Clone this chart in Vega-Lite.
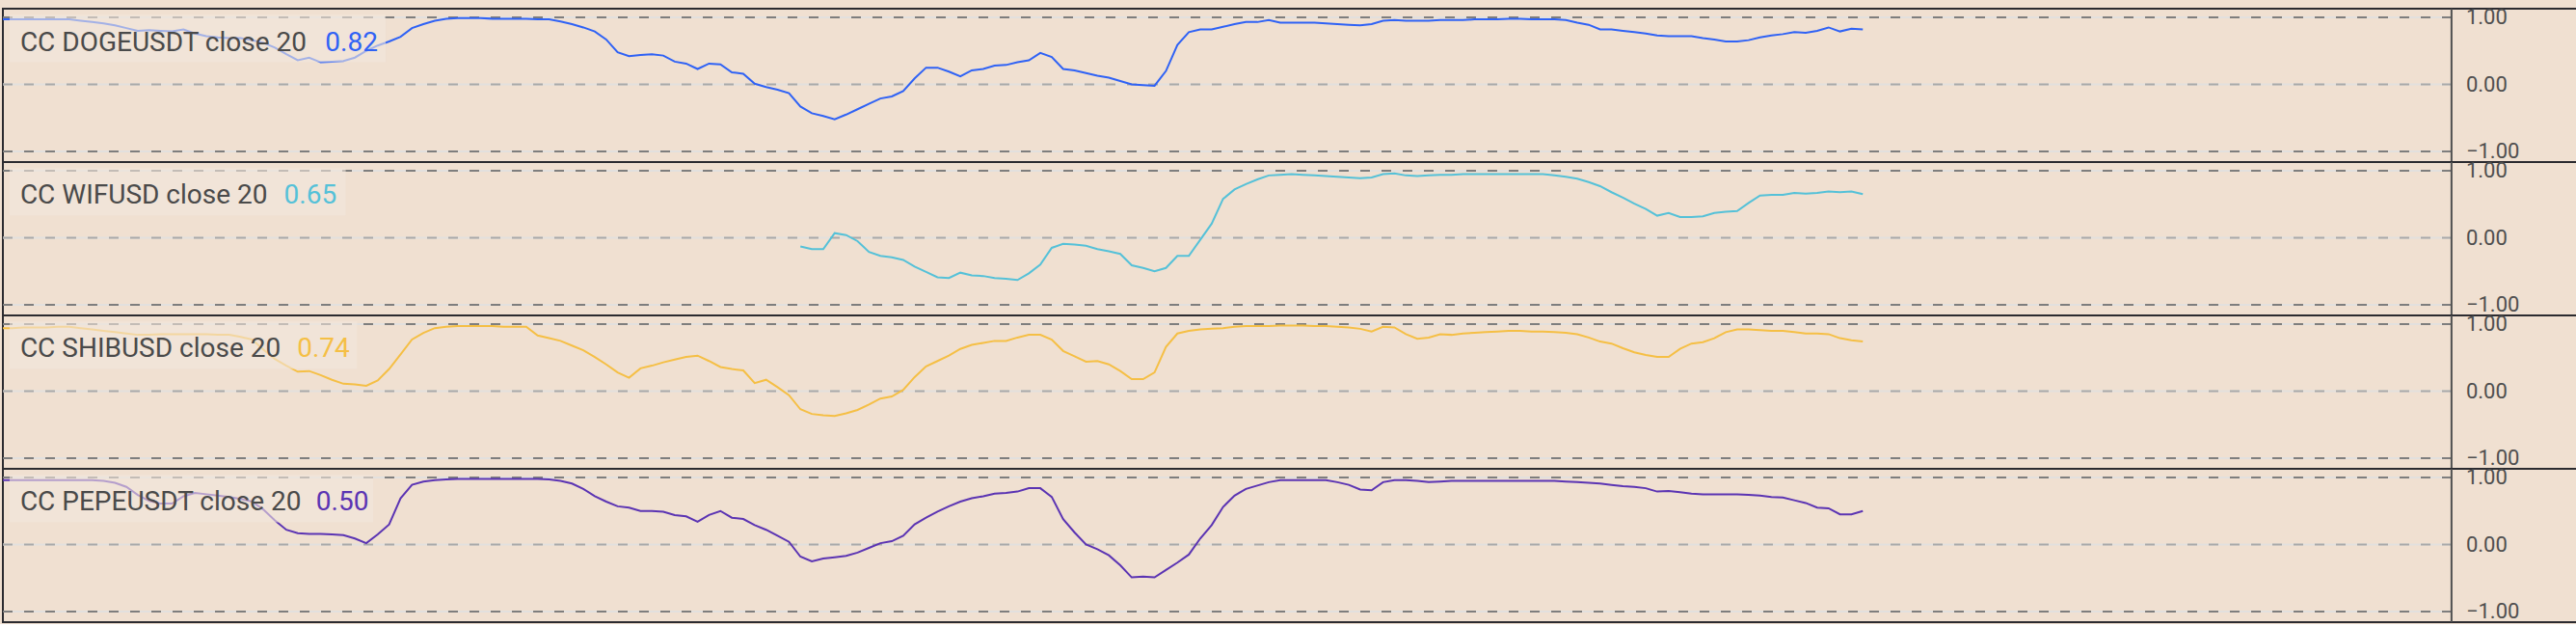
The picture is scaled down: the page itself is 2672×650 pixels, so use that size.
{
  "$schema": "https://vega.github.io/schema/vega-lite/v6.json",
  "background": "#f0e0d1",
  "padding": {"left": 1, "top": 6, "right": 0, "bottom": 0},
  "spacing": 0,
  "bounds": "flush",
  "config": {
    "view": {"stroke": "#2b2b30", "strokeWidth": 2, "fill": "#f0e0d1"},
    "text": {"font": "Roboto"}
  },
  "datasets": {
    "cc": [
      {"i":0,"doge":0.97,"shib":0.94,"pepe":0.96},
      {"i":1,"doge":0.97,"shib":0.94,"pepe":0.96},
      {"i":2,"doge":0.97,"shib":0.95,"pepe":0.96},
      {"i":3,"doge":0.97,"shib":0.95,"pepe":0.96},
      {"i":4,"doge":0.97,"shib":0.95,"pepe":0.96},
      {"i":5,"doge":0.97,"shib":0.96,"pepe":0.96},
      {"i":6,"doge":0.97,"shib":0.96,"pepe":0.96},
      {"i":7,"doge":0.95,"shib":0.94,"pepe":0.96},
      {"i":8,"doge":0.93,"shib":0.92,"pepe":0.96},
      {"i":9,"doge":0.91,"shib":0.90,"pepe":0.95},
      {"i":10,"doge":0.88,"shib":0.88,"pepe":0.92},
      {"i":11,"doge":0.84,"shib":0.86,"pepe":0.86},
      {"i":12,"doge":0.80,"shib":0.84,"pepe":0.74},
      {"i":13,"doge":0.81,"shib":0.84,"pepe":0.65},
      {"i":14,"doge":0.80,"shib":0.85,"pepe":0.61},
      {"i":15,"doge":0.79,"shib":0.85,"pepe":0.61},
      {"i":16,"doge":0.82,"shib":0.85,"pepe":0.72},
      {"i":17,"doge":0.76,"shib":0.85,"pepe":0.77},
      {"i":18,"doge":0.72,"shib":0.85,"pepe":0.75},
      {"i":19,"doge":0.70,"shib":0.84,"pepe":0.73},
      {"i":20,"doge":0.69,"shib":0.84,"pepe":0.71},
      {"i":21,"doge":0.69,"shib":0.81,"pepe":0.68},
      {"i":22,"doge":0.66,"shib":0.77,"pepe":0.64},
      {"i":23,"doge":0.62,"shib":0.62,"pepe":0.52},
      {"i":24,"doge":0.55,"shib":0.48,"pepe":0.36},
      {"i":25,"doge":0.45,"shib":0.38,"pepe":0.22},
      {"i":26,"doge":0.36,"shib":0.29,"pepe":0.17},
      {"i":27,"doge":0.40,"shib":0.30,"pepe":0.16},
      {"i":28,"doge":0.33,"shib":0.24,"pepe":0.16},
      {"i":29,"doge":0.34,"shib":0.17,"pepe":0.15},
      {"i":30,"doge":0.35,"shib":0.11,"pepe":0.14},
      {"i":31,"doge":0.40,"shib":0.10,"pepe":0.09},
      {"i":32,"doge":0.50,"shib":0.08,"pepe":0.02},
      {"i":33,"doge":0.58,"shib":0.16,"pepe":0.15},
      {"i":34,"doge":0.64,"shib":0.33,"pepe":0.30},
      {"i":35,"doge":0.71,"shib":0.55,"pepe":0.69},
      {"i":36,"doge":0.84,"shib":0.77,"pepe":0.89},
      {"i":37,"doge":0.90,"shib":0.87,"pepe":0.94},
      {"i":38,"doge":0.95,"shib":0.94,"pepe":0.96},
      {"i":39,"doge":0.98,"shib":0.96,"pepe":0.97},
      {"i":40,"doge":0.99,"shib":0.97,"pepe":0.98},
      {"i":41,"doge":0.99,"shib":0.97,"pepe":0.98},
      {"i":42,"doge":0.99,"shib":0.97,"pepe":0.98},
      {"i":43,"doge":0.98,"shib":0.97,"pepe":0.98},
      {"i":44,"doge":0.98,"shib":0.96,"pepe":0.98},
      {"i":45,"doge":0.98,"shib":0.96,"pepe":0.98},
      {"i":46,"doge":0.98,"shib":0.96,"pepe":0.98},
      {"i":47,"doge":0.97,"shib":0.83,"pepe":0.98},
      {"i":48,"doge":0.97,"shib":0.79,"pepe":0.97},
      {"i":49,"doge":0.94,"shib":0.75,"pepe":0.95},
      {"i":50,"doge":0.90,"shib":0.68,"pepe":0.91},
      {"i":51,"doge":0.85,"shib":0.61,"pepe":0.83},
      {"i":52,"doge":0.79,"shib":0.51,"pepe":0.72},
      {"i":53,"doge":0.67,"shib":0.40,"pepe":0.64},
      {"i":54,"doge":0.48,"shib":0.28,"pepe":0.57},
      {"i":55,"doge":0.42,"shib":0.20,"pepe":0.55},
      {"i":56,"doge":0.44,"shib":0.34,"pepe":0.50},
      {"i":57,"doge":0.45,"shib":0.38,"pepe":0.50},
      {"i":58,"doge":0.43,"shib":0.43,"pepe":0.49},
      {"i":59,"doge":0.34,"shib":0.47,"pepe":0.44},
      {"i":60,"doge":0.31,"shib":0.51,"pepe":0.42},
      {"i":61,"doge":0.23,"shib":0.53,"pepe":0.34},
      {"i":62,"doge":0.31,"shib":0.45,"pepe":0.44},
      {"i":63,"doge":0.30,"shib":0.36,"pepe":0.50},
      {"i":64,"doge":0.18,"shib":0.33,"pepe":0.40},
      {"i":65,"doge":0.16,"shib":0.31,"pepe":0.38},
      {"i":66,"doge":0.01,"shib":0.12,"pepe":0.29},
      {"i":67,"doge":-0.04,"shib":0.17,"pepe":0.22},
      {"i":68,"doge":-0.08,"shib":0.06,"pepe":0.13},
      {"i":69,"doge":-0.13,"shib":-0.06,"pepe":0.04},
      {"i":70,"doge":-0.33,"wif":-0.13,"shib":-0.27,"pepe":-0.18},
      {"i":71,"doge":-0.43,"wif":-0.17,"shib":-0.34,"pepe":-0.25},
      {"i":72,"doge":-0.47,"wif":-0.17,"shib":-0.36,"pepe":-0.21},
      {"i":73,"doge":-0.52,"wif":0.07,"shib":-0.37,"pepe":-0.19},
      {"i":74,"doge":-0.45,"wif":0.04,"shib":-0.33,"pepe":-0.17},
      {"i":75,"doge":-0.37,"wif":-0.05,"shib":-0.28,"pepe":-0.12},
      {"i":76,"doge":-0.29,"wif":-0.21,"shib":-0.20,"pepe":-0.05},
      {"i":77,"doge":-0.21,"wif":-0.27,"shib":-0.11,"pepe":0.02},
      {"i":78,"doge":-0.18,"wif":-0.29,"shib":-0.08,"pepe":0.05},
      {"i":79,"doge":-0.10,"wif":-0.33,"shib":0.02,"pepe":0.13},
      {"i":80,"doge":0.09,"wif":-0.43,"shib":0.21,"pepe":0.30},
      {"i":81,"doge":0.25,"wif":-0.51,"shib":0.37,"pepe":0.40},
      {"i":82,"doge":0.25,"wif":-0.59,"shib":0.45,"pepe":0.49},
      {"i":83,"doge":0.19,"wif":-0.60,"shib":0.53,"pepe":0.57},
      {"i":84,"doge":0.12,"wif":-0.52,"shib":0.63,"pepe":0.64},
      {"i":85,"doge":0.21,"wif":-0.56,"shib":0.69,"pepe":0.69},
      {"i":86,"doge":0.23,"wif":-0.57,"shib":0.72,"pepe":0.72},
      {"i":87,"doge":0.28,"wif":-0.60,"shib":0.75,"pepe":0.76},
      {"i":88,"doge":0.29,"wif":-0.61,"shib":0.75,"pepe":0.77},
      {"i":89,"doge":0.33,"wif":-0.63,"shib":0.80,"pepe":0.79},
      {"i":90,"doge":0.36,"wif":-0.53,"shib":0.84,"pepe":0.84},
      {"i":91,"doge":0.47,"wif":-0.40,"shib":0.84,"pepe":0.84},
      {"i":92,"doge":0.41,"wif":-0.15,"shib":0.77,"pepe":0.71},
      {"i":93,"doge":0.23,"wif":-0.09,"shib":0.60,"pepe":0.38},
      {"i":94,"doge":0.21,"wif":-0.10,"shib":0.52,"pepe":0.18},
      {"i":95,"doge":0.17,"wif":-0.12,"shib":0.44,"pepe":0.00},
      {"i":96,"doge":0.13,"wif":-0.17,"shib":0.45,"pepe":-0.07},
      {"i":97,"doge":0.10,"wif":-0.20,"shib":0.40,"pepe":-0.16},
      {"i":98,"doge":0.05,"wif":-0.24,"shib":0.30,"pepe":-0.31},
      {"i":99,"doge":0.00,"wif":-0.41,"shib":0.18,"pepe":-0.49},
      {"i":100,"doge":-0.01,"wif":-0.45,"shib":0.18,"pepe":-0.48},
      {"i":101,"doge":-0.02,"wif":-0.50,"shib":0.28,"pepe":-0.49},
      {"i":102,"doge":0.20,"wif":-0.45,"shib":0.66,"pepe":-0.38},
      {"i":103,"doge":0.59,"wif":-0.27,"shib":0.86,"pepe":-0.27},
      {"i":104,"doge":0.78,"wif":-0.27,"shib":0.90,"pepe":-0.15},
      {"i":105,"doge":0.82,"wif":-0.03,"shib":0.92,"pepe":0.09},
      {"i":106,"doge":0.82,"wif":0.21,"shib":0.93,"pepe":0.29},
      {"i":107,"doge":0.86,"wif":0.58,"shib":0.94,"pepe":0.56},
      {"i":108,"doge":0.90,"wif":0.72,"shib":0.96,"pepe":0.73},
      {"i":109,"doge":0.93,"wif":0.80,"shib":0.97,"pepe":0.83},
      {"i":110,"doge":0.93,"wif":0.87,"shib":0.97,"pepe":0.88},
      {"i":111,"doge":0.96,"wif":0.93,"shib":0.97,"pepe":0.93},
      {"i":112,"doge":0.92,"wif":0.94,"shib":0.98,"pepe":0.96},
      {"i":113,"doge":0.92,"wif":0.95,"shib":0.98,"pepe":0.96},
      {"i":114,"doge":0.92,"wif":0.94,"shib":0.98,"pepe":0.96},
      {"i":115,"doge":0.92,"wif":0.93,"shib":0.97,"pepe":0.96},
      {"i":116,"doge":0.91,"wif":0.92,"shib":0.97,"pepe":0.96},
      {"i":117,"doge":0.90,"wif":0.91,"shib":0.96,"pepe":0.93},
      {"i":118,"doge":0.89,"wif":0.90,"shib":0.95,"pepe":0.89},
      {"i":119,"doge":0.88,"wif":0.89,"shib":0.93,"pepe":0.82},
      {"i":120,"doge":0.90,"wif":0.90,"shib":0.89,"pepe":0.81},
      {"i":121,"doge":0.95,"wif":0.95,"shib":0.96,"pepe":0.93},
      {"i":122,"doge":0.96,"wif":0.96,"shib":0.95,"pepe":0.96},
      {"i":123,"doge":0.95,"wif":0.93,"shib":0.85,"pepe":0.96},
      {"i":124,"doge":0.95,"wif":0.92,"shib":0.78,"pepe":0.95},
      {"i":125,"doge":0.95,"wif":0.93,"shib":0.80,"pepe":0.93},
      {"i":126,"doge":0.96,"wif":0.94,"shib":0.85,"pepe":0.94},
      {"i":127,"doge":0.96,"wif":0.94,"shib":0.84,"pepe":0.95},
      {"i":128,"doge":0.96,"wif":0.95,"shib":0.86,"pepe":0.95},
      {"i":129,"doge":0.97,"wif":0.95,"shib":0.87,"pepe":0.95},
      {"i":130,"doge":0.97,"wif":0.95,"shib":0.88,"pepe":0.95},
      {"i":131,"doge":0.97,"wif":0.95,"shib":0.89,"pepe":0.95},
      {"i":132,"doge":0.98,"wif":0.95,"shib":0.90,"pepe":0.95},
      {"i":133,"doge":0.98,"wif":0.95,"shib":0.90,"pepe":0.95},
      {"i":134,"doge":0.97,"wif":0.95,"shib":0.89,"pepe":0.95},
      {"i":135,"doge":0.97,"wif":0.95,"shib":0.89,"pepe":0.95},
      {"i":136,"doge":0.97,"wif":0.93,"shib":0.88,"pepe":0.95},
      {"i":137,"doge":0.96,"wif":0.91,"shib":0.87,"pepe":0.94},
      {"i":138,"doge":0.92,"wif":0.88,"shib":0.85,"pepe":0.93},
      {"i":139,"doge":0.89,"wif":0.83,"shib":0.80,"pepe":0.92},
      {"i":140,"doge":0.82,"wif":0.77,"shib":0.74,"pepe":0.91},
      {"i":141,"doge":0.82,"wif":0.68,"shib":0.71,"pepe":0.89},
      {"i":142,"doge":0.80,"wif":0.60,"shib":0.64,"pepe":0.87},
      {"i":143,"doge":0.78,"wif":0.51,"shib":0.58,"pepe":0.86},
      {"i":144,"doge":0.76,"wif":0.43,"shib":0.54,"pepe":0.84},
      {"i":145,"doge":0.73,"wif":0.33,"shib":0.51,"pepe":0.79},
      {"i":146,"doge":0.72,"wif":0.37,"shib":0.51,"pepe":0.80},
      {"i":147,"doge":0.72,"wif":0.31,"shib":0.63,"pepe":0.78},
      {"i":148,"doge":0.72,"wif":0.31,"shib":0.71,"pepe":0.76},
      {"i":149,"doge":0.69,"wif":0.32,"shib":0.73,"pepe":0.75},
      {"i":150,"doge":0.67,"wif":0.37,"shib":0.79,"pepe":0.75},
      {"i":151,"doge":0.64,"wif":0.39,"shib":0.88,"pepe":0.75},
      {"i":152,"doge":0.64,"wif":0.40,"shib":0.92,"pepe":0.75},
      {"i":153,"doge":0.66,"wif":0.52,"shib":0.92,"pepe":0.74},
      {"i":154,"doge":0.70,"wif":0.63,"shib":0.91,"pepe":0.73},
      {"i":155,"doge":0.73,"wif":0.64,"shib":0.90,"pepe":0.71},
      {"i":156,"doge":0.75,"wif":0.64,"shib":0.90,"pepe":0.70},
      {"i":157,"doge":0.78,"wif":0.67,"shib":0.88,"pepe":0.66},
      {"i":158,"doge":0.77,"wif":0.66,"shib":0.86,"pepe":0.62},
      {"i":159,"doge":0.80,"wif":0.67,"shib":0.86,"pepe":0.55},
      {"i":160,"doge":0.85,"wif":0.69,"shib":0.85,"pepe":0.54},
      {"i":161,"doge":0.79,"wif":0.68,"shib":0.79,"pepe":0.45},
      {"i":162,"doge":0.83,"wif":0.69,"shib":0.76,"pepe":0.45},
      {"i":163,"doge":0.82,"wif":0.65,"shib":0.74,"pepe":0.50}
    ],
    "levels": [{"level": 1}, {"level": 0}, {"level": -1}],
    "outer": [{"level": 1}, {"level": -1}],
    "mid": [{"level": 0}],
    "doge_lbl": [{"label": "CC DOGEUSDT close 20", "last": "0.82"}],
    "wif_lbl": [{"label": "CC WIFUSD close 20", "last": "0.65"}],
    "shib_lbl": [{"label": "CC SHIBUSD close 20", "last": "0.74"}],
    "pepe_lbl": [{"label": "CC PEPEUSDT close 20", "last": "0.50"}]
  },
  "vconcat": [
    {
      "width": 2672, "height": 159,
      "layer": [
        {"data": {"name": "cc"}, "mark": {"type": "line", "stroke": "#2f62f5", "strokeOpacity": 0, "strokeWidth": 2, "clip": true},
         "encoding": {
           "x": {"field": "i", "type": "quantitative", "scale": {"domain": [0.19, 225.68], "nice": false, "zero": false},
                 "axis": {"values": [2.22, 15.13, 32.09, 49.05, 63.06, 76.9, 93.95, 106.86, 122.97, 139.77, 153.78, 167.7, 183.65, 196.65], "labels": false, "ticks": false, "domain": false, "grid": true, "gridColor": "#ebe8e5", "gridWidth": 2, "title": null}},
           "y": {"field": "doge", "type": "quantitative", "scale": {"domain": [-1.158, 1.1295], "nice": false, "zero": false}, "axis": null}}},
        {"data": {"name": "levels"}, "mark": {"type": "rule", "stroke": "#e2e0de", "strokeWidth": 2},
         "encoding": {"y": {"field": "level", "type": "quantitative", "scale": {"domain": [-1.158, 1.1295], "nice": false, "zero": false}, "axis": null},
                      "x": {"datum": 0.19, "type": "quantitative", "scale": {"domain": [0.19, 225.68], "nice": false, "zero": false}, "axis": null}, "x2": {"datum": 214.53}}},
        {"data": {"name": "outer"}, "mark": {"type": "rule", "stroke": "#7e7e7e", "strokeWidth": 2, "strokeDash": [10, 12]},
         "encoding": {"y": {"field": "level", "type": "quantitative", "scale": {"domain": [-1.158, 1.1295], "nice": false, "zero": false}, "axis": null},
                      "x": {"datum": 0.19, "type": "quantitative", "scale": {"domain": [0.19, 225.68], "nice": false, "zero": false}, "axis": null}, "x2": {"datum": 214.53}}},
        {"data": {"name": "mid"}, "mark": {"type": "rule", "stroke": "#a9a9a9", "strokeWidth": 2, "strokeDash": [10, 12]},
         "encoding": {"y": {"field": "level", "type": "quantitative", "scale": {"domain": [-1.158, 1.1295], "nice": false, "zero": false}, "axis": null},
                      "x": {"datum": 0.19, "type": "quantitative", "scale": {"domain": [0.19, 225.68], "nice": false, "zero": false}, "axis": null}, "x2": {"datum": 214.53}}},
        {"data": {"name": "cc"}, "mark": {"type": "line", "stroke": "#2f62f5", "strokeWidth": 2, "clip": true},
         "encoding": {
           "x": {"field": "i", "type": "quantitative", "scale": {"domain": [0.19, 225.68], "nice": false, "zero": false}, "axis": null},
           "y": {"field": "doge", "type": "quantitative", "scale": {"domain": [-1.158, 1.1295], "nice": false, "zero": false}, "axis": null}}},
        {"data": {"name": "mid"}, "mark": {"type": "rule", "stroke": "#505050", "strokeWidth": 2},
         "encoding": {"x": {"datum": 214.53, "type": "quantitative", "scale": {"domain": [0.19, 225.68], "nice": false, "zero": false}, "axis": null}}},
        {"data": {"name": "levels"}, "mark": {"type": "text", "font": "Roboto", "fontSize": 22, "fill": "#4f4f4f", "align": "left", "baseline": "middle"},
         "encoding": {"text": {"field": "level", "type": "quantitative", "format": ".2f"},
                      "x": {"datum": 215.8, "type": "quantitative", "scale": {"domain": [0.19, 225.68], "nice": false, "zero": false}, "axis": null},
                      "y": {"field": "level", "type": "quantitative", "scale": {"domain": [-1.158, 1.1295], "nice": false, "zero": false}, "axis": null}}},
        {"data": {"name": "doge_lbl"}, "mark": {"type": "rect", "fill": "#f2e6dc", "fillOpacity": 0.6},
         "encoding": {"x": {"datum": 0.78, "type": "quantitative", "scale": {"domain": [0.19, 225.68], "nice": false, "zero": false}, "axis": null}, "x2": {"datum": 33.7},
                      "y": {"datum": 1.04, "type": "quantitative", "scale": {"domain": [-1.158, 1.1295], "nice": false, "zero": false}, "axis": null}, "y2": {"datum": 0.33}}},
        {"data": {"name": "doge_lbl"}, "mark": {"type": "text", "font": "Roboto", "fontSize": 28, "fill": "#4a4a4a", "align": "left", "baseline": "alphabetic"},
         "encoding": {"text": {"field": "label"},
                      "x": {"datum": 1.7, "type": "quantitative", "scale": {"domain": [0.19, 225.68], "nice": false, "zero": false}, "axis": null},
                      "y": {"datum": 0.5, "type": "quantitative", "scale": {"domain": [-1.158, 1.1295], "nice": false, "zero": false}, "axis": null}}},
        {"data": {"name": "doge_lbl"}, "mark": {"type": "text", "font": "Roboto", "fontSize": 28, "fill": "#2f62f5", "align": "left", "baseline": "alphabetic"},
         "encoding": {"text": {"field": "last"},
                      "x": {"datum": 28.4, "type": "quantitative", "scale": {"domain": [0.19, 225.68], "nice": false, "zero": false}, "axis": null},
                      "y": {"datum": 0.5, "type": "quantitative", "scale": {"domain": [-1.158, 1.1295], "nice": false, "zero": false}, "axis": null}}}
      ]
    },
    {
      "width": 2672, "height": 159,
      "layer": [
        {"data": {"name": "cc"}, "mark": {"type": "line", "stroke": "#55c1d8", "strokeOpacity": 0, "strokeWidth": 2, "clip": true},
         "encoding": {
           "x": {"field": "i", "type": "quantitative", "scale": {"domain": [0.19, 225.68], "nice": false, "zero": false},
                 "axis": {"values": [2.22, 15.13, 32.09, 49.05, 63.06, 76.9, 93.95, 106.86, 122.97, 139.77, 153.78, 167.7, 183.65, 196.65], "labels": false, "ticks": false, "domain": false, "grid": true, "gridColor": "#ebe8e5", "gridWidth": 2, "title": null}},
           "y": {"field": "wif", "type": "quantitative", "scale": {"domain": [-1.158, 1.1295], "nice": false, "zero": false}, "axis": null}}},
        {"data": {"name": "levels"}, "mark": {"type": "rule", "stroke": "#e2e0de", "strokeWidth": 2},
         "encoding": {"y": {"field": "level", "type": "quantitative", "scale": {"domain": [-1.158, 1.1295], "nice": false, "zero": false}, "axis": null},
                      "x": {"datum": 0.19, "type": "quantitative", "scale": {"domain": [0.19, 225.68], "nice": false, "zero": false}, "axis": null}, "x2": {"datum": 214.53}}},
        {"data": {"name": "outer"}, "mark": {"type": "rule", "stroke": "#7e7e7e", "strokeWidth": 2, "strokeDash": [10, 12]},
         "encoding": {"y": {"field": "level", "type": "quantitative", "scale": {"domain": [-1.158, 1.1295], "nice": false, "zero": false}, "axis": null},
                      "x": {"datum": 0.19, "type": "quantitative", "scale": {"domain": [0.19, 225.68], "nice": false, "zero": false}, "axis": null}, "x2": {"datum": 214.53}}},
        {"data": {"name": "mid"}, "mark": {"type": "rule", "stroke": "#a9a9a9", "strokeWidth": 2, "strokeDash": [10, 12]},
         "encoding": {"y": {"field": "level", "type": "quantitative", "scale": {"domain": [-1.158, 1.1295], "nice": false, "zero": false}, "axis": null},
                      "x": {"datum": 0.19, "type": "quantitative", "scale": {"domain": [0.19, 225.68], "nice": false, "zero": false}, "axis": null}, "x2": {"datum": 214.53}}},
        {"data": {"name": "cc"}, "mark": {"type": "line", "stroke": "#55c1d8", "strokeWidth": 2, "clip": true},
         "encoding": {
           "x": {"field": "i", "type": "quantitative", "scale": {"domain": [0.19, 225.68], "nice": false, "zero": false}, "axis": null},
           "y": {"field": "wif", "type": "quantitative", "scale": {"domain": [-1.158, 1.1295], "nice": false, "zero": false}, "axis": null}}},
        {"data": {"name": "mid"}, "mark": {"type": "rule", "stroke": "#505050", "strokeWidth": 2},
         "encoding": {"x": {"datum": 214.53, "type": "quantitative", "scale": {"domain": [0.19, 225.68], "nice": false, "zero": false}, "axis": null}}},
        {"data": {"name": "levels"}, "mark": {"type": "text", "font": "Roboto", "fontSize": 22, "fill": "#4f4f4f", "align": "left", "baseline": "middle"},
         "encoding": {"text": {"field": "level", "type": "quantitative", "format": ".2f"},
                      "x": {"datum": 215.8, "type": "quantitative", "scale": {"domain": [0.19, 225.68], "nice": false, "zero": false}, "axis": null},
                      "y": {"field": "level", "type": "quantitative", "scale": {"domain": [-1.158, 1.1295], "nice": false, "zero": false}, "axis": null}}},
        {"data": {"name": "wif_lbl"}, "mark": {"type": "rect", "fill": "#f2e6dc", "fillOpacity": 0.6},
         "encoding": {"x": {"datum": 0.78, "type": "quantitative", "scale": {"domain": [0.19, 225.68], "nice": false, "zero": false}, "axis": null}, "x2": {"datum": 30.2},
                      "y": {"datum": 1.04, "type": "quantitative", "scale": {"domain": [-1.158, 1.1295], "nice": false, "zero": false}, "axis": null}, "y2": {"datum": 0.33}}},
        {"data": {"name": "wif_lbl"}, "mark": {"type": "text", "font": "Roboto", "fontSize": 28, "fill": "#4a4a4a", "align": "left", "baseline": "alphabetic"},
         "encoding": {"text": {"field": "label"},
                      "x": {"datum": 1.7, "type": "quantitative", "scale": {"domain": [0.19, 225.68], "nice": false, "zero": false}, "axis": null},
                      "y": {"datum": 0.51, "type": "quantitative", "scale": {"domain": [-1.158, 1.1295], "nice": false, "zero": false}, "axis": null}}},
        {"data": {"name": "wif_lbl"}, "mark": {"type": "text", "font": "Roboto", "fontSize": 28, "fill": "#55c1d8", "align": "left", "baseline": "alphabetic"},
         "encoding": {"text": {"field": "last"},
                      "x": {"datum": 24.8, "type": "quantitative", "scale": {"domain": [0.19, 225.68], "nice": false, "zero": false}, "axis": null},
                      "y": {"datum": 0.51, "type": "quantitative", "scale": {"domain": [-1.158, 1.1295], "nice": false, "zero": false}, "axis": null}}}
      ]
    },
    {
      "width": 2672, "height": 159,
      "layer": [
        {"data": {"name": "cc"}, "mark": {"type": "line", "stroke": "#f5bf45", "strokeOpacity": 0, "strokeWidth": 2, "clip": true},
         "encoding": {
           "x": {"field": "i", "type": "quantitative", "scale": {"domain": [0.19, 225.68], "nice": false, "zero": false},
                 "axis": {"values": [2.22, 15.13, 32.09, 49.05, 63.06, 76.9, 93.95, 106.86, 122.97, 139.77, 153.78, 167.7, 183.65, 196.65], "labels": false, "ticks": false, "domain": false, "grid": true, "gridColor": "#ebe8e5", "gridWidth": 2, "title": null}},
           "y": {"field": "shib", "type": "quantitative", "scale": {"domain": [-1.158, 1.1295], "nice": false, "zero": false}, "axis": null}}},
        {"data": {"name": "levels"}, "mark": {"type": "rule", "stroke": "#e2e0de", "strokeWidth": 2},
         "encoding": {"y": {"field": "level", "type": "quantitative", "scale": {"domain": [-1.158, 1.1295], "nice": false, "zero": false}, "axis": null},
                      "x": {"datum": 0.19, "type": "quantitative", "scale": {"domain": [0.19, 225.68], "nice": false, "zero": false}, "axis": null}, "x2": {"datum": 214.53}}},
        {"data": {"name": "outer"}, "mark": {"type": "rule", "stroke": "#7e7e7e", "strokeWidth": 2, "strokeDash": [10, 12]},
         "encoding": {"y": {"field": "level", "type": "quantitative", "scale": {"domain": [-1.158, 1.1295], "nice": false, "zero": false}, "axis": null},
                      "x": {"datum": 0.19, "type": "quantitative", "scale": {"domain": [0.19, 225.68], "nice": false, "zero": false}, "axis": null}, "x2": {"datum": 214.53}}},
        {"data": {"name": "mid"}, "mark": {"type": "rule", "stroke": "#a9a9a9", "strokeWidth": 2, "strokeDash": [10, 12]},
         "encoding": {"y": {"field": "level", "type": "quantitative", "scale": {"domain": [-1.158, 1.1295], "nice": false, "zero": false}, "axis": null},
                      "x": {"datum": 0.19, "type": "quantitative", "scale": {"domain": [0.19, 225.68], "nice": false, "zero": false}, "axis": null}, "x2": {"datum": 214.53}}},
        {"data": {"name": "cc"}, "mark": {"type": "line", "stroke": "#f5bf45", "strokeWidth": 2, "clip": true},
         "encoding": {
           "x": {"field": "i", "type": "quantitative", "scale": {"domain": [0.19, 225.68], "nice": false, "zero": false}, "axis": null},
           "y": {"field": "shib", "type": "quantitative", "scale": {"domain": [-1.158, 1.1295], "nice": false, "zero": false}, "axis": null}}},
        {"data": {"name": "mid"}, "mark": {"type": "rule", "stroke": "#505050", "strokeWidth": 2},
         "encoding": {"x": {"datum": 214.53, "type": "quantitative", "scale": {"domain": [0.19, 225.68], "nice": false, "zero": false}, "axis": null}}},
        {"data": {"name": "levels"}, "mark": {"type": "text", "font": "Roboto", "fontSize": 22, "fill": "#4f4f4f", "align": "left", "baseline": "middle"},
         "encoding": {"text": {"field": "level", "type": "quantitative", "format": ".2f"},
                      "x": {"datum": 215.8, "type": "quantitative", "scale": {"domain": [0.19, 225.68], "nice": false, "zero": false}, "axis": null},
                      "y": {"field": "level", "type": "quantitative", "scale": {"domain": [-1.158, 1.1295], "nice": false, "zero": false}, "axis": null}}},
        {"data": {"name": "shib_lbl"}, "mark": {"type": "rect", "fill": "#f2e6dc", "fillOpacity": 0.6},
         "encoding": {"x": {"datum": 0.78, "type": "quantitative", "scale": {"domain": [0.19, 225.68], "nice": false, "zero": false}, "axis": null}, "x2": {"datum": 31.2},
                      "y": {"datum": 1.04, "type": "quantitative", "scale": {"domain": [-1.158, 1.1295], "nice": false, "zero": false}, "axis": null}, "y2": {"datum": 0.33}}},
        {"data": {"name": "shib_lbl"}, "mark": {"type": "text", "font": "Roboto", "fontSize": 28, "fill": "#4a4a4a", "align": "left", "baseline": "alphabetic"},
         "encoding": {"text": {"field": "label"},
                      "x": {"datum": 1.7, "type": "quantitative", "scale": {"domain": [0.19, 225.68], "nice": false, "zero": false}, "axis": null},
                      "y": {"datum": 0.51, "type": "quantitative", "scale": {"domain": [-1.158, 1.1295], "nice": false, "zero": false}, "axis": null}}},
        {"data": {"name": "shib_lbl"}, "mark": {"type": "text", "font": "Roboto", "fontSize": 28, "fill": "#f5bf45", "align": "left", "baseline": "alphabetic"},
         "encoding": {"text": {"field": "last"},
                      "x": {"datum": 25.95, "type": "quantitative", "scale": {"domain": [0.19, 225.68], "nice": false, "zero": false}, "axis": null},
                      "y": {"datum": 0.51, "type": "quantitative", "scale": {"domain": [-1.158, 1.1295], "nice": false, "zero": false}, "axis": null}}}
      ]
    },
    {
      "width": 2672, "height": 159,
      "layer": [
        {"data": {"name": "cc"}, "mark": {"type": "line", "stroke": "#5b34b3", "strokeOpacity": 0, "strokeWidth": 2, "clip": true},
         "encoding": {
           "x": {"field": "i", "type": "quantitative", "scale": {"domain": [0.19, 225.68], "nice": false, "zero": false},
                 "axis": {"values": [2.22, 15.13, 32.09, 49.05, 63.06, 76.9, 93.95, 106.86, 122.97, 139.77, 153.78, 167.7, 183.65, 196.65], "labels": false, "ticks": false, "domain": false, "grid": true, "gridColor": "#ebe8e5", "gridWidth": 2, "title": null}},
           "y": {"field": "pepe", "type": "quantitative", "scale": {"domain": [-1.158, 1.1295], "nice": false, "zero": false}, "axis": null}}},
        {"data": {"name": "levels"}, "mark": {"type": "rule", "stroke": "#e2e0de", "strokeWidth": 2},
         "encoding": {"y": {"field": "level", "type": "quantitative", "scale": {"domain": [-1.158, 1.1295], "nice": false, "zero": false}, "axis": null},
                      "x": {"datum": 0.19, "type": "quantitative", "scale": {"domain": [0.19, 225.68], "nice": false, "zero": false}, "axis": null}, "x2": {"datum": 214.53}}},
        {"data": {"name": "outer"}, "mark": {"type": "rule", "stroke": "#7e7e7e", "strokeWidth": 2, "strokeDash": [10, 12]},
         "encoding": {"y": {"field": "level", "type": "quantitative", "scale": {"domain": [-1.158, 1.1295], "nice": false, "zero": false}, "axis": null},
                      "x": {"datum": 0.19, "type": "quantitative", "scale": {"domain": [0.19, 225.68], "nice": false, "zero": false}, "axis": null}, "x2": {"datum": 214.53}}},
        {"data": {"name": "mid"}, "mark": {"type": "rule", "stroke": "#a9a9a9", "strokeWidth": 2, "strokeDash": [10, 12]},
         "encoding": {"y": {"field": "level", "type": "quantitative", "scale": {"domain": [-1.158, 1.1295], "nice": false, "zero": false}, "axis": null},
                      "x": {"datum": 0.19, "type": "quantitative", "scale": {"domain": [0.19, 225.68], "nice": false, "zero": false}, "axis": null}, "x2": {"datum": 214.53}}},
        {"data": {"name": "cc"}, "mark": {"type": "line", "stroke": "#5b34b3", "strokeWidth": 2, "clip": true},
         "encoding": {
           "x": {"field": "i", "type": "quantitative", "scale": {"domain": [0.19, 225.68], "nice": false, "zero": false}, "axis": null},
           "y": {"field": "pepe", "type": "quantitative", "scale": {"domain": [-1.158, 1.1295], "nice": false, "zero": false}, "axis": null}}},
        {"data": {"name": "mid"}, "mark": {"type": "rule", "stroke": "#505050", "strokeWidth": 2},
         "encoding": {"x": {"datum": 214.53, "type": "quantitative", "scale": {"domain": [0.19, 225.68], "nice": false, "zero": false}, "axis": null}}},
        {"data": {"name": "levels"}, "mark": {"type": "text", "font": "Roboto", "fontSize": 22, "fill": "#4f4f4f", "align": "left", "baseline": "middle"},
         "encoding": {"text": {"field": "level", "type": "quantitative", "format": ".2f"},
                      "x": {"datum": 215.8, "type": "quantitative", "scale": {"domain": [0.19, 225.68], "nice": false, "zero": false}, "axis": null},
                      "y": {"field": "level", "type": "quantitative", "scale": {"domain": [-1.158, 1.1295], "nice": false, "zero": false}, "axis": null}}},
        {"data": {"name": "pepe_lbl"}, "mark": {"type": "rect", "fill": "#f2e6dc", "fillOpacity": 0.6},
         "encoding": {"x": {"datum": 0.78, "type": "quantitative", "scale": {"domain": [0.19, 225.68], "nice": false, "zero": false}, "axis": null}, "x2": {"datum": 32.6},
                      "y": {"datum": 1.04, "type": "quantitative", "scale": {"domain": [-1.158, 1.1295], "nice": false, "zero": false}, "axis": null}, "y2": {"datum": 0.33}}},
        {"data": {"name": "pepe_lbl"}, "mark": {"type": "text", "font": "Roboto", "fontSize": 28, "fill": "#4a4a4a", "align": "left", "baseline": "alphabetic"},
         "encoding": {"text": {"field": "label"},
                      "x": {"datum": 1.7, "type": "quantitative", "scale": {"domain": [0.19, 225.68], "nice": false, "zero": false}, "axis": null},
                      "y": {"datum": 0.51, "type": "quantitative", "scale": {"domain": [-1.158, 1.1295], "nice": false, "zero": false}, "axis": null}}},
        {"data": {"name": "pepe_lbl"}, "mark": {"type": "text", "font": "Roboto", "fontSize": 28, "fill": "#5b34b3", "align": "left", "baseline": "alphabetic"},
         "encoding": {"text": {"field": "last"},
                      "x": {"datum": 27.6, "type": "quantitative", "scale": {"domain": [0.19, 225.68], "nice": false, "zero": false}, "axis": null},
                      "y": {"datum": 0.51, "type": "quantitative", "scale": {"domain": [-1.158, 1.1295], "nice": false, "zero": false}, "axis": null}}}
      ]
    }
  ]
}
